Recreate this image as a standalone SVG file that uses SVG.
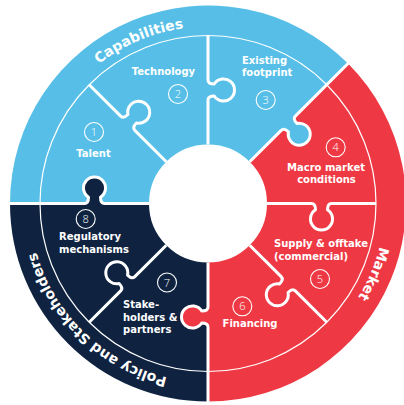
<svg xmlns="http://www.w3.org/2000/svg" xmlns:xlink="http://www.w3.org/1999/xlink" width="404" height="405" viewBox="0 0 404 405">
<style>
.blue{fill:#57BFE7}
.red{fill:#EE3944}
.navy{fill:#0F2341}
.seam{fill:none;stroke:#fff;stroke-width:3;stroke-linejoin:round}
.ring{fill:none;stroke:#fff;stroke-width:1.2}
.lbl{font-family:"DejaVu Sans","Liberation Sans",sans-serif;font-weight:bold;font-size:10px;fill:#fff}
.mid{text-anchor:middle}
.num{font-family:"Open Sans","DejaVu Sans",sans-serif;font-weight:300;font-size:11px;fill:#fff;text-anchor:middle}
.nc{fill:none;stroke:#fff;stroke-width:1.1}
.band{font-family:"DejaVu Sans","Liberation Sans",sans-serif;font-weight:bold;font-size:14px;fill:#fff}
</style>
<defs>
<path id="piece" d="M59,0 L103.5,0 Q107.5,0 107.5,6.28 A11,11 0 1 0 119.5,6.28 Q119.5,0 123.5,0 L168,0 A168,168 0 0 1 118.79,118.79 L87.33,87.33 Q84.5,84.5 80.06,88.94 A11,11 0 1 1 71.57,80.45 Q76.01,76.01 73.19,73.19 L41.72,41.72 A59,59 0 0 0 59,0 Z"/>
<path id="seam" d="M59,0 L103.5,0 Q107.5,0 107.5,6.28 A11,11 0 1 0 119.5,6.28 Q119.5,0 123.5,0 L168,0"/>
<path id="seamx" d="M59,0 L103.5,0 Q107.5,0 107.5,6.28 A11,11 0 1 0 119.5,6.28 Q119.5,0 123.5,0 L210,0"/>
<path id="arcCap" d="M32.32,181.93 A177,177 0 0 1 314.52,62.14"/>
<path id="arcMkt" d="M349.36,96.98 A177,177 0 0 1 229.57,379.18"/>
<path id="arcPol" d="M258.1,374.83 A178.5,178.5 0 0 1 34.58,161.22"/>
</defs>
<rect width="404" height="405" fill="#fff"/>
<g id="bands" transform="translate(208,203.5)">
<path class="blue" d="M-198,0 A198,198 0 0 1 140.01,-140.01 L117.38,-117.38 A166,166 0 0 0 -166,0 Z"/>
<path class="red" d="M140.01,-140.01 A198,198 0 0 1 0,198 L0,166 A166,166 0 0 0 117.38,-117.38 Z"/>
<path class="navy" d="M0,198 A198,198 0 0 1 -198,0 L-166,0 A166,166 0 0 0 0,166 Z"/>
</g>
<g id="node-1-talent">
<use xlink:href="#piece" class="blue" transform="translate(208,203.5) rotate(180)"/>
<circle class="nc" cx="94" cy="132" r="9.5"/>
<text class="num" x="94" y="136">1</text>
<text class="lbl mid" x="93.5" y="156.5">Talent</text>
</g>
<g id="node-2-technology">
<use xlink:href="#piece" class="blue" transform="translate(208,203.5) rotate(225)"/>
<circle class="nc" cx="178" cy="94" r="9.5"/>
<text class="num" x="178" y="98">2</text>
<text class="lbl mid" x="163.5" y="74.5">Technology</text>
</g>
<g id="node-3-existing-footprint">
<use xlink:href="#piece" class="blue" transform="translate(208,203.5) rotate(270)"/>
<circle class="nc" cx="265.7" cy="100" r="9.5"/>
<text class="num" x="265.7" y="104">3</text>
<text class="lbl" x="242" y="63.5">Existing</text>
<text class="lbl" x="242" y="76">footprint</text>
</g>
<g id="node-4-macro-market">
<use xlink:href="#piece" class="red" transform="translate(208,203.5) rotate(315)"/>
<circle class="nc" cx="335.7" cy="147.3" r="9.5"/>
<text class="num" x="335.7" y="151.3">4</text>
<text class="lbl mid" x="326" y="170.5">Macro market</text>
<text class="lbl mid" x="326.5" y="183">conditions</text>
</g>
<g id="node-5-supply-offtake">
<use xlink:href="#piece" class="red" transform="translate(208,203.5) rotate(0)"/>
<circle class="nc" cx="320" cy="279" r="9.5"/>
<text class="num" x="320" y="283">5</text>
<text class="lbl" x="274" y="247">Supply &amp; offtake</text>
<text class="lbl" x="274" y="259.5">(commercial)</text>
</g>
<g id="node-6-financing">
<use xlink:href="#piece" class="red" transform="translate(208,203.5) rotate(45)"/>
<circle class="nc" cx="242.3" cy="306.3" r="9.5"/>
<text class="num" x="242.3" y="310.3">6</text>
<text class="lbl mid" x="250" y="326.5">Financing</text>
</g>
<g id="node-7-stakeholders">
<use xlink:href="#piece" class="navy" transform="translate(208,203.5) rotate(90)"/>
<circle class="nc" cx="167" cy="282.5" r="9.5"/>
<text class="num" x="167" y="286.5">7</text>
<text class="lbl" x="123" y="308">Stake-</text>
<text class="lbl" x="123" y="320.7">holders &amp;</text>
<text class="lbl" x="123" y="333.4">partners</text>
</g>
<g id="node-8-regulatory">
<use xlink:href="#piece" class="navy" transform="translate(208,203.5) rotate(135)"/>
<circle class="nc" cx="85.7" cy="219" r="9.5"/>
<text class="num" x="85.7" y="223">8</text>
<text class="lbl" x="59" y="240">Regulatory</text>
<text class="lbl" x="59" y="252.5">mechanisms</text>
</g>
<g id="seams" class="seam">
<circle class="ring" cx="208" cy="203.5" r="168"/>
<use xlink:href="#seam" transform="translate(208,203.5) rotate(0)"/>
<use xlink:href="#seam" transform="translate(208,203.5) rotate(45)"/>
<use xlink:href="#seamx" transform="translate(208,203.5) rotate(90)"/>
<use xlink:href="#seam" transform="translate(208,203.5) rotate(135)"/>
<use xlink:href="#seamx" transform="translate(208,203.5) rotate(180)"/>
<use xlink:href="#seam" transform="translate(208,203.5) rotate(225)"/>
<use xlink:href="#seam" transform="translate(208,203.5) rotate(270)"/>
<use xlink:href="#seamx" transform="translate(208,203.5) rotate(315)"/>
</g>
<g id="group-labels" class="band">
<text><textPath xlink:href="#arcCap" startOffset="50%" text-anchor="middle">Capabilities</textPath></text>
<text><textPath xlink:href="#arcMkt" startOffset="50%" text-anchor="middle">Market</textPath></text>
<text><textPath xlink:href="#arcPol" startOffset="50%" text-anchor="middle">Policy and Stakeholders</textPath></text>
</g>
</svg>
